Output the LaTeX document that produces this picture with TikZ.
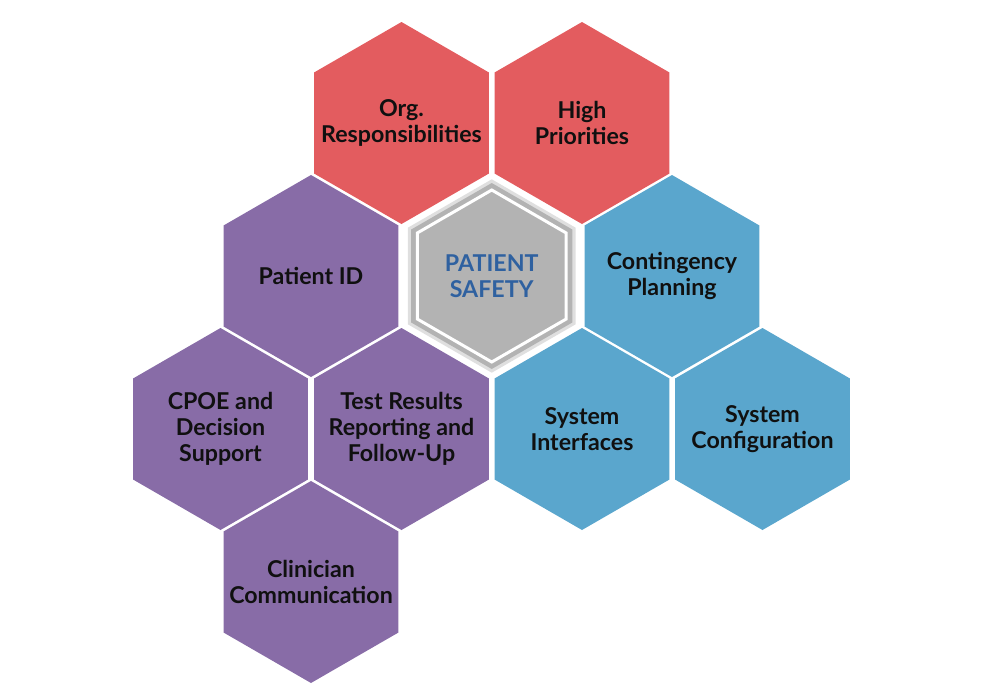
\documentclass[tikz,border=0pt]{standalone}
\usepackage{fontspec}
\setmainfont{Lato}
\usetikzlibrary{shapes.geometric,shadows}
\definecolor{hexred}{HTML}{E35C5F}
\definecolor{hexpurple}{HTML}{886CA7}
\definecolor{hexblue}{HTML}{5AA6CD}
\definecolor{hexgray}{HTML}{B3B3B3}
\definecolor{hexink}{HTML}{101010}
\definecolor{safetyink}{HTML}{2F61A0}
\tikzset{
  hexa/.style={regular polygon,regular polygon sides=6,shape border rotate=30,minimum size=101pt,inner sep=-30pt,align=center,font=\bfseries\fontsize{11.6}{13}\selectfont,text=hexink},
  hexr/.style={hexa,fill=hexred},
  hexp/.style={hexa,fill=hexpurple},
  hexb/.style={hexa,fill=hexblue},
}
\begin{document}
\begin{tikzpicture}[x=0.5pt,y=-0.5pt]
\useasboundingbox(0,0)rectangle(998,697);
% top row
\node[hexr](org)at(401.5,123){Org.\\Responsibilities};
\node[hexr](high)at(582,123){High\\Priorities};
% middle row
\node[hexp](pid)at(311,276){Patient ID};
\node[hexa,minimum size=93pt,fill=hexgray,drop shadow={shadow xshift=0pt,shadow yshift=0pt,shadow scale=1.04,fill=black!25,opacity=.5}](rim)at(491.75,276){};
\node[hexa,minimum size=86pt,fill=hexgray,draw=white,line width=1.5pt,text=safetyink](safety)at(rim){PATIENT\\SAFETY};
\node[hexb](cont)at(672,276){Contingency\\Planning};
% lower row
\node[hexp](cpoe)at(220.5,429){CPOE and\\Decision\\Support};
\node[hexp](test)at(401.5,429){Test Results\\Reporting and\\Follow-Up};
\node[hexb](sint)at(582,429){System\\Interfaces};
\node[hexb](sconf)at(762.5,429){System\\Configuration};
% bottom
\node[hexp](clin)at(311,582){Clinician\\Communication};
\end{tikzpicture}
\end{document}
